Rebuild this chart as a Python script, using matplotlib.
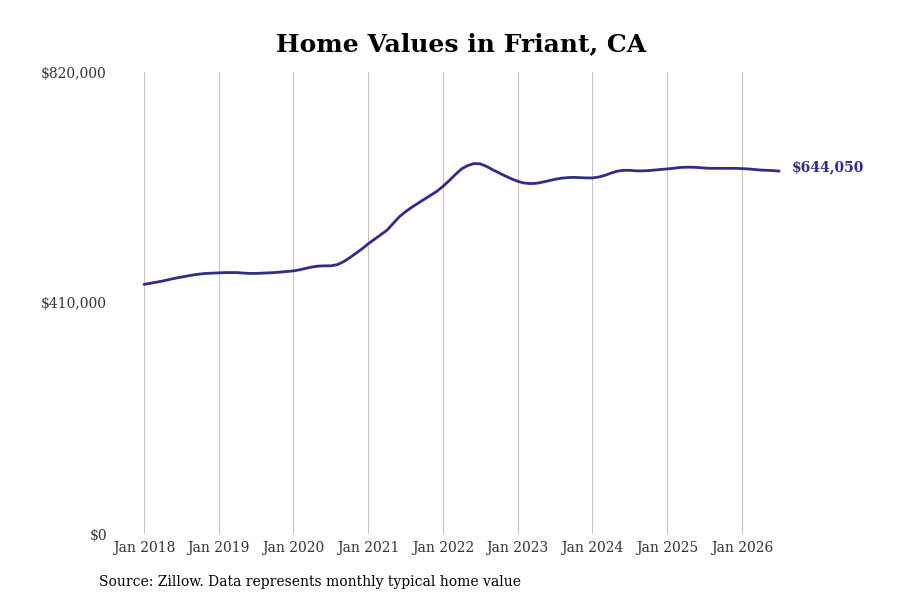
import numpy as np
import matplotlib.pyplot as plt

# Monthly typical home value, Jan 2018 - Jul 2026 (in $1000s)
values_2018 = [443, 445, 447, 449, 451.5, 454, 456, 458, 460, 461.5, 462.5, 463]
values_2019 = [463.5, 464, 464, 464, 463, 462.5, 462.5, 463, 463.5, 464, 465, 466]
values_2020 = [467, 469, 471.5, 474, 475.5, 476, 476, 478, 483, 490, 498, 506]
values_2021 = [515, 523, 531, 539, 551, 563, 572, 580, 587, 594, 601, 608]
values_2022 = [617, 627, 638, 648, 654, 657.5, 657, 652.5, 646.5, 641, 635.5, 630.5]
values_2023 = [626, 623, 622, 622.5, 624.5, 627, 629.5, 631.5, 632.5, 633, 632.5, 632]
values_2024 = [632, 633.5, 636.5, 640.5, 644, 645.5, 645.5, 644.5, 644.5, 645, 646, 647]
values_2025 = [648, 649, 650.5, 651, 651, 650.5, 649.5, 649, 649, 649, 649, 649]
values_2026 = [648.5, 648, 647, 646, 645.5, 645, 644.05]

years = [2018, 2019, 2020, 2021, 2022, 2023, 2024, 2025, 2026]
tick_labels = [f'Jan {y}' for y in years]
y_ticks = [0, 410000, 820000]
y_tick_labels = ['$0', '$410,000', '$820,000']

values = np.array(values_2018 + values_2019 + values_2020 + values_2021 + values_2022
                  + values_2023 + values_2024 + values_2025 + values_2026) * 1000
months = np.arange(len(values))

line_color = '#2e2d88'
plt.rcParams['font.family'] = 'DejaVu Serif'

fig = plt.figure(figsize=(9, 6), dpi=100)
ax = fig.add_axes([115 / 900, 0.11, 765 / 900, 0.77])

ax.plot(months, values, color=line_color, linewidth=2.0,
        solid_capstyle='round', solid_joinstyle='round')

ax.set_ylim(0, 820000)
ax.set_xlim(-4.66, 118.2)
ax.set_xticks(np.arange(0, 97, 12))
ax.set_xticklabels(tick_labels)
ax.set_yticks(y_ticks)
ax.set_yticklabels(y_tick_labels)
ax.tick_params(axis='both', length=0, labelsize=10, colors='#333333')
ax.tick_params(axis='x', pad=5)
ax.tick_params(axis='y', pad=5.8)

ax.grid(axis='x', color='#c4c4c4', linewidth=0.8)
ax.grid(axis='y', visible=False)
for s in ax.spines.values():
    s.set_visible(False)

# last value label
ax.annotate(f'${values[-1]:,.0f}', xy=(months[-1], values[-1]),
            xytext=(9, 3), textcoords='offset points',
            ha='left', va='center', fontsize=10, fontweight='bold', color=line_color)

fig.text(461 / 900, 1 - 44 / 600, 'Home Values in Friant, CA', ha='center', va='center',
         fontsize=18, fontweight='bold')
fig.text(99 / 900, 1 - 582 / 600, 'Source: Zillow. Data represents monthly typical home value',
         ha='left', va='center', fontsize=10)

fig.savefig('out.png', dpi=100)
